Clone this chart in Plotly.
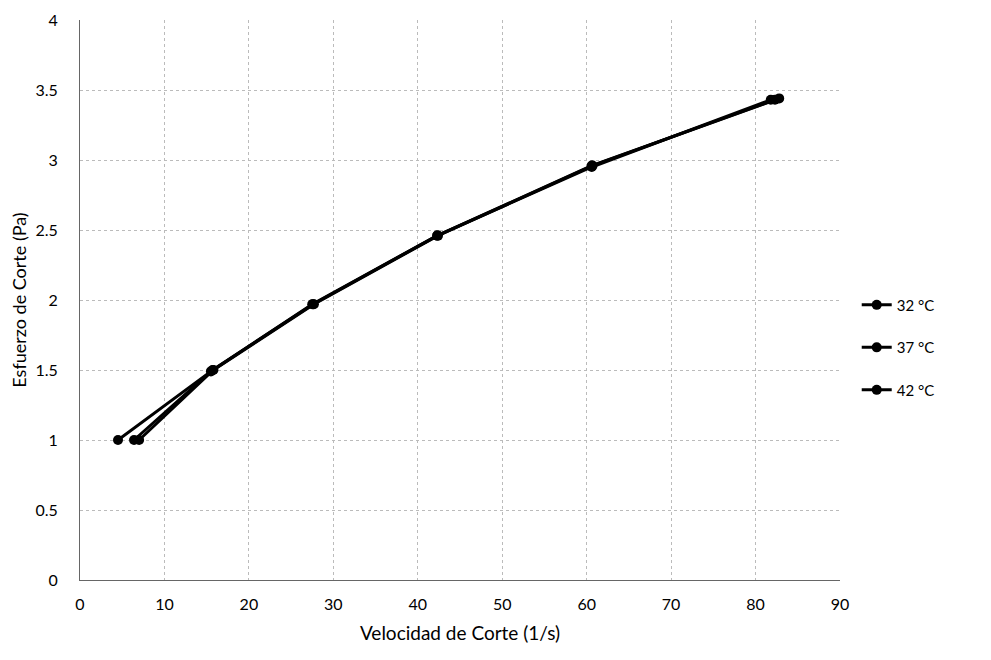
import plotly.graph_objects as go

series_names = ["32 °C", "37 °C", "42 °C"]
x_32 = [4.5, 15.5, 27.5, 42.3, 60.6, 81.8]
y_32 = [1.0, 1.49, 1.97, 2.46, 2.95, 3.43]
x_37 = [6.4, 15.7, 27.6, 42.3, 60.6, 82.3]
y_37 = [1.0, 1.50, 1.97, 2.46, 2.96, 3.43]
x_42 = [7.0, 15.8, 27.7, 42.4, 60.7, 82.8]
y_42 = [1.0, 1.50, 1.97, 2.46, 2.96, 3.44]

x_ticks = [0, 10, 20, 30, 40, 50, 60, 70, 80, 90]
y_ticks = [0, 0.5, 1, 1.5, 2, 2.5, 3, 3.5, 4]
y_tick_labels = ["0", "0.5", "1", "1.5", "2", "2.5", "3", "3.5", "4"]

fig = go.Figure()
for i, (name, xs, ys) in enumerate(zip(series_names, [x_32, x_37, x_42], [y_32, y_37, y_42])):
    fig.add_trace(go.Scatter(
        x=xs, y=ys, name=name, mode="lines+markers",
        line=dict(color="black", width=3),
        marker=dict(color="black", size=10, symbol="circle"),
        legendgroup=f"g{i}",
    ))

font_family = "Lato, Open Sans, sans-serif"
fig.update_layout(
    width=991, height=660,
    paper_bgcolor="white", plot_bgcolor="white",
    margin=dict(l=72, r=159, t=12, b=88),
    font=dict(family=font_family, color="black", size=15),
    legend=dict(x=1.022, y=0.415, xanchor="left", yanchor="middle",
                font=dict(size=15), tracegroupgap=20, bgcolor="rgba(0,0,0,0)"),
    xaxis=dict(range=[0, 90], tickvals=x_ticks, ticktext=[str(v) for v in x_ticks],
               showgrid=True, gridcolor="#bbbbbb", griddash="dot", gridwidth=1,
               zeroline=False, showline=True, linecolor="#666", linewidth=1,
               ticks="outside", ticklen=10, tickcolor="rgba(0,0,0,0)", automargin=False,
               title=dict(text="Velocidad de Corte (1/s)", font=dict(size=19), standoff=14),
               tickfont=dict(size=16)),
    yaxis=dict(range=[0, 4], tickvals=y_ticks, ticktext=y_tick_labels,
               showgrid=True, gridcolor="#bbbbbb", griddash="dot", gridwidth=1,
               zeroline=False, showline=True, linecolor="#666", linewidth=1,
               ticks="outside", ticklen=18, tickcolor="rgba(0,0,0,0)", automargin=False,
               title=dict(text="Esfuerzo de Corte (Pa)", font=dict(size=18), standoff=14),
               tickfont=dict(size=16)),
)

fig.write_html("out.html")
